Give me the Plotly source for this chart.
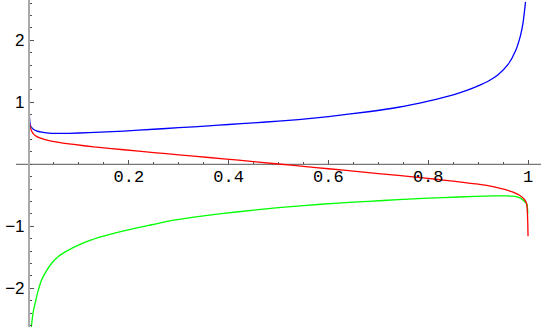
import plotly.graph_objects as go

# ---- data ----
blue_x = [0.0001, 0.0003, 0.001, 0.003, 0.008, 0.015, 0.025, 0.045, 0.08, 0.12, 0.19, 0.25, 0.30,
          0.36, 0.40, 0.45, 0.50, 0.54, 0.60, 0.68, 0.74, 0.80, 0.85, 0.88, 0.90, 0.92, 0.94,
          0.96, 0.975, 0.985, 0.99, 0.995]
blue_y = [1.19, 1.05, 0.75, 0.62, 0.57, 0.54, 0.52, 0.50, 0.50, 0.51, 0.535, 0.565, 0.59,
          0.62, 0.642, 0.668, 0.697, 0.722, 0.77, 0.848, 0.92, 1.02, 1.12, 1.20, 1.265, 1.34, 1.445,
          1.61, 1.83, 2.08, 2.28, 2.62]

red_x = [0.0005, 0.003, 0.008, 0.015, 0.032, 0.06, 0.09, 0.13, 0.19, 0.25, 0.30, 0.36,
         0.42, 0.50, 0.55, 0.60, 0.66, 0.74, 0.80, 0.83, 0.87, 0.90, 0.93, 0.955, 0.97,
         0.983, 0.992, 0.997, 0.9985, 0.9995, 1.0]
red_y = [0.68, 0.58, 0.50, 0.45, 0.40, 0.355, 0.32, 0.28, 0.235, 0.19, 0.153, 0.11,
         0.066, 0.005, -0.033, -0.072, -0.118, -0.18, -0.228, -0.254, -0.29, -0.32, -0.36, -0.41, -0.45,
         -0.50, -0.56, -0.63, -0.75, -0.95, -1.16]

green_x = [0.004, 0.005, 0.008, 0.012, 0.018, 0.025, 0.035, 0.045, 0.06, 0.079, 0.10, 0.125,
           0.16, 0.192, 0.24, 0.29, 0.35, 0.42, 0.50, 0.55, 0.62, 0.68, 0.74, 0.80, 0.86,
           0.93, 0.96, 0.976, 0.985, 0.993, 0.998, 0.9995]
green_y = [-2.65, -2.60, -2.40, -2.25, -2.05, -1.87, -1.72, -1.60, -1.48, -1.385, -1.30, -1.22,
           -1.135, -1.07, -0.985, -0.90, -0.83, -0.765, -0.70, -0.665, -0.625, -0.598, -0.57, -0.547, -0.527,
           -0.51, -0.51, -0.52, -0.545, -0.60, -0.65, -0.80]

x_tick_vals = [0.2, 0.4, 0.6, 0.8, 1.0]
x_tick_text = ["0.2", "0.4", "0.6", "0.8", "1"]
y_tick_vals = [-2, -1, 1, 2]
y_tick_text = ["\u22122", "\u22121", "1", "2"]

X_RANGE = [-0.0581, 1.026]
Y_RANGE = [-2.624, 2.65]

fig = go.Figure()
line_style = dict(width=1.3, shape="spline", smoothing=0.5)
fig.add_trace(go.Scatter(x=blue_x, y=blue_y, mode="lines", line=dict(color="#0000ff", **line_style)))
fig.add_trace(go.Scatter(x=green_x, y=green_y, mode="lines", line=dict(color="#00ff00", **line_style)))
fig.add_trace(go.Scatter(x=red_x, y=red_y, mode="lines", line=dict(color="#ff0000", **line_style)))

xpos = (0 - Y_RANGE[0]) / (Y_RANGE[1] - Y_RANGE[0])
ypos = (0 - X_RANGE[0]) / (X_RANGE[1] - X_RANGE[0])

fig.update_layout(
    width=541, height=327,
    margin=dict(l=0, r=0, t=0, b=0),
    paper_bgcolor="white", plot_bgcolor="white",
    showlegend=False,
    xaxis=dict(range=X_RANGE, anchor="free", position=xpos, showgrid=False, zeroline=False,
               showline=False, tickmode="array", tickvals=x_tick_vals, ticktext=x_tick_text,
               ticks="inside", ticklen=4, tickcolor="#555", tickwidth=1,
               tickfont=dict(family="Liberation Mono", size=17, color="black"),
               minor=dict(tickvals=[i * 0.05 for i in range(1, 21)], ticks="inside",
                          ticklen=2, tickcolor="#555", tickwidth=1, showgrid=False),
               automargin=False, fixedrange=True),
    yaxis=dict(range=Y_RANGE, anchor="free", position=ypos, showgrid=False, zeroline=False,
               showline=True, linecolor="#aaaaaa", linewidth=2,
               tickmode="array", tickvals=y_tick_vals, ticktext=y_tick_text,
               ticks="inside", ticklen=4, tickcolor="#555", tickwidth=1,
               tickfont=dict(family="Liberation Sans", size=17, color="black"),
               minor=dict(dtick=0.2, tick0=0, ticks="inside", ticklen=2, tickcolor="#555",
                          tickwidth=1, showgrid=False),
               automargin=False, fixedrange=True),
    shapes=[dict(type="line", xref="x", yref="y", x0=-0.026, x1=X_RANGE[1], y0=0, y1=0,
                 line=dict(color="#555", width=1), layer="below")],
)

fig.write_html("out.html", config={"displayModeBar": False},
               post_script="document.body.style.margin='0';document.body.style.overflow='hidden';")
